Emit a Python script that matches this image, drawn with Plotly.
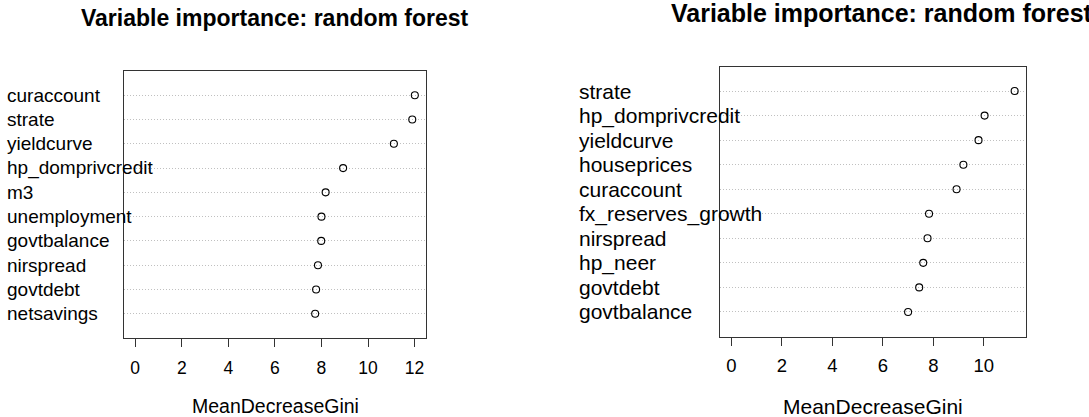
import plotly.graph_objects as go

W, H = 1089, 417

# ---- data ----
left_vars = ["curaccount", "strate", "yieldcurve", "hp_domprivcredit", "m3",
             "unemployment", "govtbalance", "nirspread", "govtdebt", "netsavings"]
left_vals = [12.01, 11.90, 11.11, 8.93, 8.18, 8.00, 7.99, 7.85, 7.77, 7.73]

right_vars = ["strate", "hp_domprivcredit", "yieldcurve", "houseprices", "curaccount",
              "fx_reserves_growth", "nirspread", "hp_neer", "govtdebt", "govtbalance"]
right_vals = [11.22, 10.03, 9.79, 9.19, 8.92, 7.83, 7.77, 7.60, 7.44, 7.00]

left_ticks = [0, 2, 4, 6, 8, 10, 12]
right_ticks = [0, 2, 4, 6, 8, 10]

title_text = "Variable importance: random forest"
xlabel_text = "MeanDecreaseGini"

FONT = "Liberation Sans, Arial, Helvetica, sans-serif"
LINE = "#333333"


def px_x(p):
    return p / W


def px_y(p):  # pixel from top -> paper from bottom
    return 1 - p / H


fig = go.Figure()

fig.add_trace(go.Scatter(
    x=left_vals, y=left_vars, mode="markers", xaxis="x", yaxis="y",
    marker=dict(symbol="circle-open", size=7, color="black", line=dict(width=1.1)),
    showlegend=False, hoverinfo="x+y"))
fig.add_trace(go.Scatter(
    x=right_vals, y=right_vars, mode="markers", xaxis="x2", yaxis="y2",
    marker=dict(symbol="circle-open", size=7, color="black", line=dict(width=1.1)),
    showlegend=False, hoverinfo="x+y"))

common_x = dict(ticks="outside", ticklen=8, tickwidth=1, tickcolor=LINE,
                showline=True, linecolor=LINE, linewidth=1, mirror=True,
                showgrid=False, zeroline=False)
common_y = dict(type="category", range=[-1, 10], showgrid=True, gridcolor="#c0c0c0",
                griddash="1px,2px", gridwidth=1, showticklabels=False, ticks="",
                showline=True, linecolor=LINE, linewidth=1, mirror=True, zeroline=False)

fig.update_layout(
    width=W, height=H, autosize=False,
    margin=dict(l=0, r=0, t=0, b=0),
    paper_bgcolor="white", plot_bgcolor="white",
    font=dict(family=FONT, color="black"),
    xaxis=dict(domain=[px_x(124), px_x(426)], range=[-0.48, 12.49], tickvals=left_ticks,
               tickfont=dict(size=17.5, family=FONT, color="black"), anchor="y",
               ticklabelstandoff=6, **common_x),
    yaxis=dict(domain=[px_y(338), px_y(71)], categoryarray=left_vars[::-1], anchor="x",
               **common_y),
    xaxis2=dict(domain=[px_x(720), px_x(1026)], range=[-0.449, 11.67], tickvals=right_ticks,
                tickfont=dict(size=18.5, family=FONT, color="black"), anchor="y2",
                ticklabelstandoff=4, **common_x),
    yaxis2=dict(domain=[px_y(336.5), px_y(66.5)], categoryarray=right_vars[::-1], anchor="x2",
                **common_y),
)

ann = []
# row labels
for v in left_vars:
    ann.append(dict(text=v, x=px_x(5), xref="paper", xanchor="left", y=v, yref="y",
                    yanchor="middle", showarrow=False, font=dict(size=19, family=FONT, color="black")))
for v in right_vars:
    ann.append(dict(text=v, x=px_x(577), xref="paper", xanchor="left", y=v, yref="y2",
                    yanchor="middle", showarrow=False, font=dict(size=21, family=FONT, color="black")))
# titles
ann.append(dict(text="<b>%s</b>" % title_text, x=px_x(275), xref="paper", xanchor="center",
                y=px_y(18), yref="paper", yanchor="middle", showarrow=False,
                font=dict(size=23, family=FONT, color="black")))
ann.append(dict(text="<b>%s</b>" % title_text, x=px_x(669), xref="paper", xanchor="left",
                y=px_y(13), yref="paper", yanchor="middle", showarrow=False,
                font=dict(size=25, family=FONT, color="black")))
# x axis titles
ann.append(dict(text=xlabel_text, x=px_x(275), xref="paper", xanchor="center",
                y=px_y(406), yref="paper", yanchor="middle", showarrow=False,
                font=dict(size=19.5, family=FONT, color="black")))
ann.append(dict(text=xlabel_text, x=px_x(873), xref="paper", xanchor="center",
                y=px_y(406), yref="paper", yanchor="middle", showarrow=False,
                font=dict(size=21, family=FONT, color="black")))
fig.update_layout(annotations=ann)

fig.write_html(
    "out.html",
    config={"displayModeBar": False},
    post_script="document.body.style.margin='0';document.body.style.padding='0';"
                "document.body.style.overflow='hidden';",
)
